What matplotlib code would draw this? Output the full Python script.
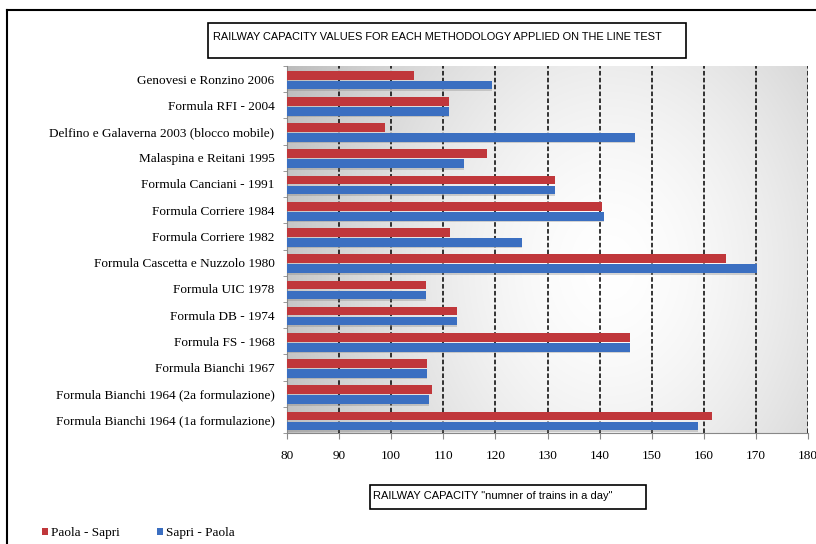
import numpy as np
import matplotlib
matplotlib.use("Agg")
import matplotlib.pyplot as plt
from matplotlib.patches import Rectangle

# Dati (dall'alto verso il basso)
categories = [
    "Genovesi e Ronzino 2006",
    "Formula RFI - 2004",
    "Delfino e Galaverna 2003 (blocco mobile)",
    "Malaspina e Reitani 1995",
    "Formula Canciani - 1991",
    "Formula Corriere 1984",
    "Formula Corriere 1982",
    "Formula Cascetta e Nuzzolo 1980",
    "Formula UIC 1978",
    "Formula DB - 1974",
    "Formula FS - 1968",
    "Formula Bianchi 1967",
    "Formula Bianchi 1964 (2a formulazione)",
    "Formula Bianchi 1964 (1a formulazione)",
]
paola_sapri = [104.3, 111.0, 98.9, 118.3, 131.4, 140.5, 111.3, 164.3, 106.6, 112.7, 145.8, 106.9, 107.8, 161.6]
sapri_paola = [119.3, 111.0, 146.7, 114.0, 131.4, 140.9, 125.2, 170.2, 106.6, 112.7, 145.8, 106.9, 107.3, 158.9]
xticks = [80, 90, 100, 110, 120, 130, 140, 150, 160, 170, 180]

red = "#c0373b"
blue = "#3b6fc1"
serif = "Liberation Serif"
sans = "Liberation Sans"

fig = plt.figure(figsize=(8.16, 5.44), dpi=100)
ax = fig.add_axes([287 / 816, 1 - 433 / 544, (808 - 287) / 816, (433 - 66) / 544])

# sfondo sfumato (radiale, chiaro al centro-destra)
gx, gy = np.meshgrid(np.linspace(0, 1, 300), np.linspace(0, 1, 200))
r = np.sqrt(((gx - 0.62) / 0.62) ** 2 + ((gy - 0.55) / 1.1) ** 2)
shade = np.clip(1.0 - 0.22 * r ** 1.6, 0.74, 1.0)
rgb = np.dstack([shade, shade, shade])
ax.imshow(rgb, aspect="auto", interpolation="bilinear",
          extent=[80, 180, len(categories) - 0.5, -0.5], zorder=0)

y = np.arange(len(categories))
h = 0.33
off = 0.19
ax.barh(y - off + 0.04, [v - 80 for v in paola_sapri], left=80, height=h,
        color=red, label="Paola - Sapri", zorder=3)
ax.barh(y + off + 0.04, [v - 80 for v in sapri_paola], left=80, height=h,
        color=blue, label="Sapri - Paola", zorder=3)
# ombra leggera sotto le barre
ax.barh(y + off + h / 2 + 0.07, [v - 80 for v in sapri_paola], left=80, height=0.06,
        color="#777777", alpha=0.3, zorder=2)

ax.set_xlim(80, 180)
ax.set_ylim(len(categories) - 0.5, -0.5)
ax.set_xticks(xticks)
ax.set_xticklabels([str(t) for t in xticks], fontfamily=serif, fontsize=9.5)
ax.set_yticks(y)
ax.set_yticklabels(categories, fontfamily=serif, fontsize=9.5)
ax.set_yticks(np.arange(len(categories) + 1) - 0.5, minor=True)
ax.tick_params(axis="y", which="major", length=0, pad=9)
ax.tick_params(axis="y", which="minor", length=3, color="#888888")
ax.tick_params(axis="x", length=4, color="#888888", pad=8)

for t in xticks[1:]:
    ax.axvline(t, color="black", linestyle=(0, (3, 1.5)), linewidth=1.1, zorder=1)

for s in ["top", "right"]:
    ax.spines[s].set_visible(False)
ax.spines["left"].set_color("#888888")
ax.spines["bottom"].set_color("#888888")

# cornice esterna
fig.add_artist(plt.Line2D([7 / 816, 7 / 816], [0, 1 - 10 / 544], transform=fig.transFigure,
                          color="black", linewidth=1.5))
fig.add_artist(plt.Line2D([7 / 816, 1], [1 - 10 / 544, 1 - 10 / 544], transform=fig.transFigure,
                          color="black", linewidth=1.5))

# riquadro titolo
fig.add_artist(Rectangle((208 / 816, 1 - 58 / 544), (686 - 208) / 816, 35 / 544,
                         transform=fig.transFigure, fill=False, edgecolor="black", linewidth=1.2))
fig.text(213 / 816, 1 - 37 / 544, "RAILWAY CAPACITY VALUES FOR EACH METHODOLOGY APPLIED ON THE LINE TEST",
         fontfamily=sans, fontsize=7.9, va="center", ha="left")

# riquadro titolo asse x
fig.add_artist(Rectangle((370 / 816, 1 - 509 / 544), (646 - 370) / 816, 24 / 544,
                         transform=fig.transFigure, fill=False, edgecolor="black", linewidth=1.2))
fig.text(373 / 816, 1 - 496 / 544, 'RAILWAY CAPACITY "numner of trains in a day"',
         fontfamily=sans, fontsize=8.0, va="center", ha="left")

# legenda
fig.legend(loc="lower left", bbox_to_anchor=(30 / 816, -7 / 544), ncol=2, frameon=False,
           prop={"family": serif, "size": 9.5}, handlelength=0.5, handleheight=0.5,
           handletextpad=0.2, columnspacing=2.8)

fig.savefig("out.png", dpi=100)
